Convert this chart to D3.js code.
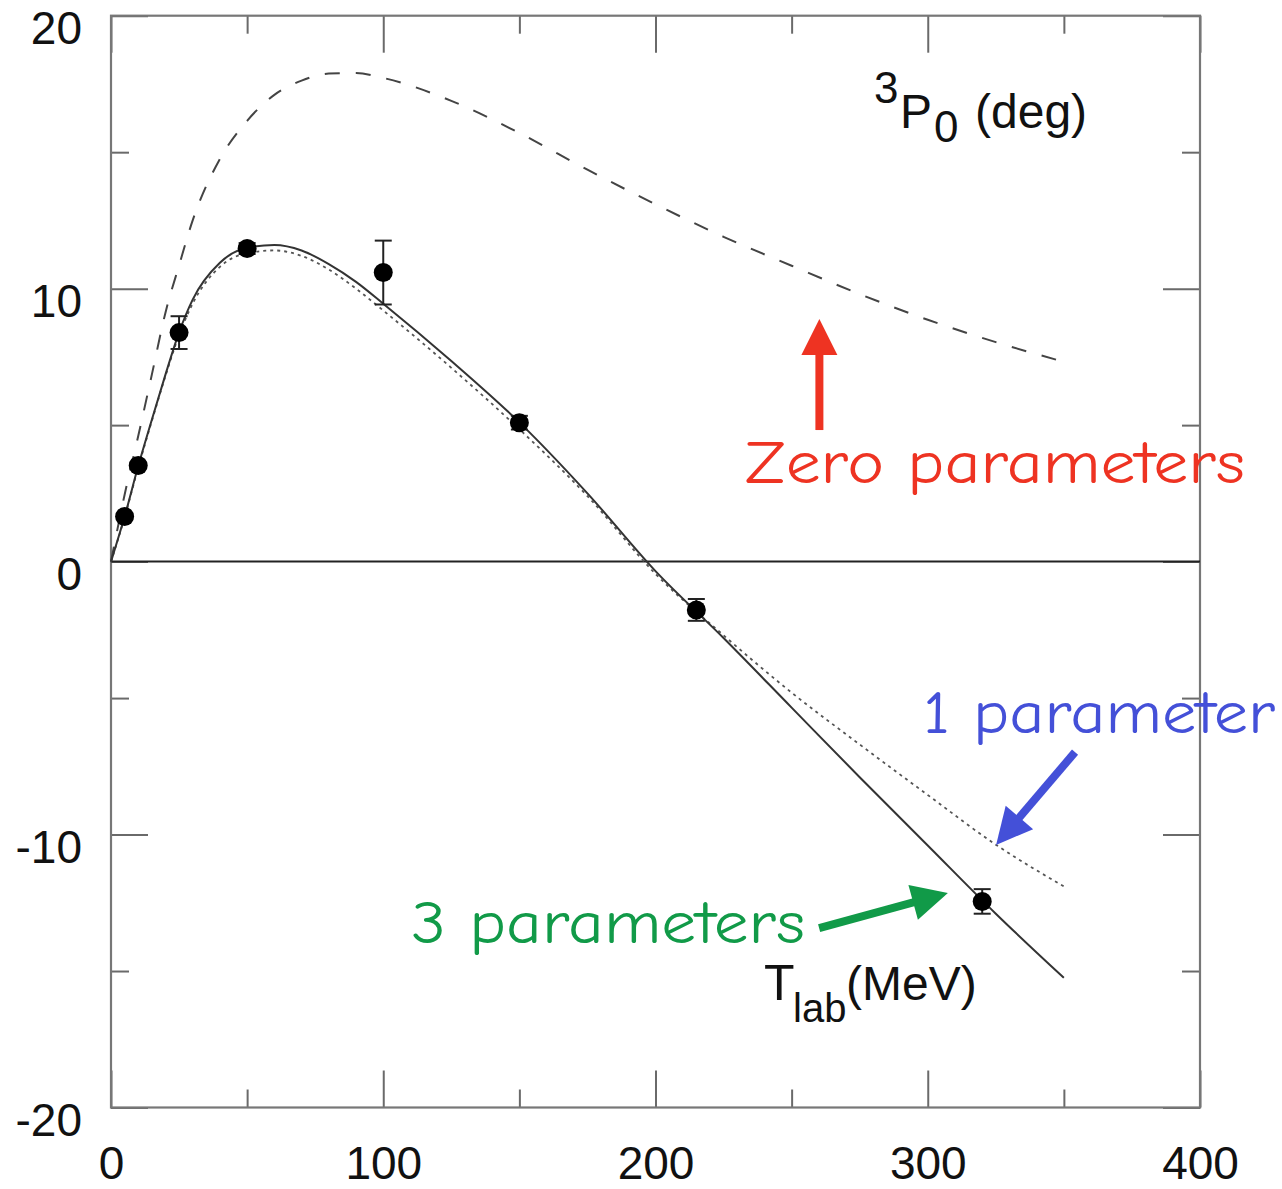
<!DOCTYPE html>
<html>
<head>
<meta charset="utf-8">
<script src="https://cdn.jsdelivr.net/npm/d3@7/dist/d3.min.js"></script>
<style>
  html, body { margin: 0; padding: 0; background: #fff; }
  svg { display: block; }
</style>
</head>
<body>
<svg id="chart" width="1282" height="1189"></svg>
<script>
// ---------- data ----------
const xMajorTicks = [0, 100, 200, 300, 400];
const xMinorTicks = [50, 150, 250, 350];
const yMajorTicks = [-20, -10, 0, 10, 20];
const yMinorTicks = [-15, -5, 5, 15];
const xTickLabels = ["0", "100", "200", "300", "400"];
const yTickLabels = ["-20", "-10", "0", "10", "20"];

// measured phase shifts (T_lab MeV, delta deg, error)
const dataT   = [5, 10, 25, 50, 100, 150, 215, 320];
const dataPh  = [1.65, 3.52, 8.39, 11.47, 10.59, 5.09, -1.77, -12.45];
const dataErr = [0.08, 0.1, 0.6, 0.2, 1.17, 0.25, 0.4, 0.45];

// curves sampled on a common T_lab grid
const curveT = [0, 5, 10, 15, 20, 25, 30, 40, 50, 60, 70, 80, 90, 100, 125, 150, 175, 200, 225, 250, 275, 300, 325, 350];
// 3 parameters (solid)
const solid3 = [0, 1.65, 3.5, 5.2, 6.85, 8.4, 9.6, 10.95, 11.5, 11.6, 11.4, 10.9, 10.25, 9.45, 7.35, 5.1, 2.5, -0.35, -2.8, -5.35, -7.9, -10.4, -12.9, -15.25];
// 1 parameter (dotted)
const dotted1 = [0, 1.62, 3.45, 5.15, 6.8, 8.3, 9.45, 10.8, 11.3, 11.4, 11.2, 10.7, 10.0, 9.2, 7.1, 4.85, 2.4, -0.45, -2.7, -4.8, -6.7, -8.55, -10.37, -11.9];
// zero parameters (dashed)
const dashed0 = [0, 2.45, 4.6, 6.85, 9.12, 10.85, 12.5, 14.75, 16.15, 17.1, 17.62, 17.88, 17.9, 17.72, 16.88, 15.7, 14.36, 13.09, 11.9, 10.84, 9.8, 8.86, 8.04, 7.32];

// annotations (data coordinates)
const annoTexts  = ["Zero parameters", "1 parameter", "3 parameters"];
const annoColors = ["#ee3322", "#4450d8", "#119a48"];
const annoTextX  = [232.9, 298.3, 110.2];
const annoTextY  = [2.88, -6.28, -13.98];
const annoTextW  = [500, 352, 394];
const arrowFromX = [260.2, 354.1, 260.1];
const arrowFromY = [4.82, -6.98, -13.43];
const arrowToX   = [260.2, 325.1, 307.4];
const arrowToY   = [8.89, -10.38, -12.14];

// ---------- layout ----------
const svg = d3.select("#chart");
const L = 111, R = 1200, T = 15.7, B = 1107.5;
const x = d3.scaleLinear().domain([0, 400]).range([L, R]);
const y = d3.scaleLinear().domain([-20, 20]).range([B, T]);

const tickColor = "#6a6a6a";
const labelFont = "'Liberation Sans', Arial, Helvetica, sans-serif";
const MAJ = 37, MIN = 18;

function styleAxis(g) {
  g.select(".domain").remove();
  g.selectAll(".tick line").attr("stroke", tickColor).attr("stroke-width", 2);
}

// bottom ticks + labels
const gB = svg.append("g").attr("transform", `translate(0,${B})`)
  .call(d3.axisBottom(x).tickValues(xMajorTicks).tickSize(-MAJ).tickPadding(0)
    .tickFormat((d, i) => xTickLabels[i]));
styleAxis(gB);
gB.selectAll("text").attr("y", 71.5).attr("dy", null)
  .attr("font-family", labelFont).attr("font-size", 46).attr("fill", "#111");
svg.append("g").attr("transform", `translate(0,${B})`)
  .call(d3.axisBottom(x).tickValues(xMinorTicks).tickSize(-MIN).tickFormat(""))
  .call(styleAxis);

// top ticks
svg.append("g").attr("transform", `translate(0,${T})`)
  .call(d3.axisTop(x).tickValues(xMajorTicks).tickSize(-MAJ).tickFormat("")).call(styleAxis);
svg.append("g").attr("transform", `translate(0,${T})`)
  .call(d3.axisTop(x).tickValues(xMinorTicks).tickSize(-MIN).tickFormat("")).call(styleAxis);

// left ticks + labels
const gL = svg.append("g").attr("transform", `translate(${L},0)`)
  .call(d3.axisLeft(y).tickValues(yMajorTicks).tickSize(-MAJ).tickPadding(29)
    .tickFormat((d, i) => yTickLabels[i]));
styleAxis(gL);
gL.selectAll("text").attr("dy", null).attr("y", 28)
  .attr("font-family", labelFont).attr("font-size", 46).attr("fill", "#111");
svg.append("g").attr("transform", `translate(${L},0)`)
  .call(d3.axisLeft(y).tickValues(yMinorTicks).tickSize(-MIN).tickFormat("")).call(styleAxis);

// right ticks
svg.append("g").attr("transform", `translate(${R},0)`)
  .call(d3.axisRight(y).tickValues(yMajorTicks).tickSize(-MAJ).tickFormat("")).call(styleAxis);
svg.append("g").attr("transform", `translate(${R},0)`)
  .call(d3.axisRight(y).tickValues(yMinorTicks).tickSize(-MIN).tickFormat("")).call(styleAxis);

// frame
svg.append("rect").attr("x", L).attr("y", T).attr("width", R - L).attr("height", B - T)
  .attr("fill", "none").attr("stroke", "#777").attr("stroke-width", 2.2);

// zero line
svg.append("line").attr("x1", x(0)).attr("x2", x(400)).attr("y1", y(0)).attr("y2", y(0))
  .attr("stroke", "#222").attr("stroke-width", 2);

// curves
const line = d3.line().x((d, i) => x(curveT[i])).y(d => y(d)).curve(d3.curveMonotoneX);
svg.append("path").attr("d", line(dashed0)).attr("fill", "none")
  .attr("stroke", "#444").attr("stroke-width", 2).attr("stroke-dasharray", "15,16");
svg.append("path").attr("d", line(dotted1)).attr("fill", "none")
  .attr("stroke", "#555").attr("stroke-width", 1.8).attr("stroke-dasharray", "3,4");
svg.append("path").attr("d", line(solid3)).attr("fill", "none")
  .attr("stroke", "#333").attr("stroke-width", 2);

// error bars
const eb = svg.append("g").attr("stroke", "#222").attr("stroke-width", 2);
dataT.forEach((t, i) => {
  const cx = x(t), y1 = y(dataPh[i] + dataErr[i]), y2 = y(dataPh[i] - dataErr[i]);
  eb.append("line").attr("x1", cx).attr("x2", cx).attr("y1", y1).attr("y2", y2);
  eb.append("line").attr("x1", cx - 8.5).attr("x2", cx + 8.5).attr("y1", y1).attr("y2", y1);
  eb.append("line").attr("x1", cx - 8.5).attr("x2", cx + 8.5).attr("y1", y2).attr("y2", y2);
});
// data points
svg.append("g").selectAll("circle").data(dataT).join("circle")
  .attr("cx", d => x(d)).attr("cy", (d, i) => y(dataPh[i])).attr("r", 9.5).attr("fill", "#000");

// title: 3P0 (deg)
const tg = svg.append("g").attr("font-family", labelFont).attr("fill", "#111");
tg.append("text").attr("x", 874).attr("y", 103).attr("font-size", 44).text("3");
tg.append("text").attr("x", 900).attr("y", 128).attr("font-size", 48).text("P");
tg.append("text").attr("x", 934).attr("y", 142).attr("font-size", 44).text("0");
tg.append("text").attr("x", 975).attr("y", 128).attr("font-size", 48).text("(deg)");

// x-axis title: T_lab(MeV)
const xt = svg.append("g").attr("font-family", labelFont).attr("fill", "#111");
xt.append("text").attr("x", 764).attr("y", 1000).attr("font-size", 50).text("T");
xt.append("text").attr("x", 793).attr("y", 1022).attr("font-size", 40).text("lab");
xt.append("text").attr("x", 846).attr("y", 1000).attr("font-size", 48).text("(MeV)");

// annotations
function arrow(g, x1, y1, x2, y2, color, shaftW, headL, headW) {
  const dx = x2 - x1, dy = y2 - y1, len = Math.hypot(dx, dy);
  const ux = dx / len, uy = dy / len, px = -uy, py = ux;
  const bx = x2 - ux * headL, by = y2 - uy * headL;
  g.append("line").attr("x1", x1).attr("y1", y1).attr("x2", bx + ux * 2).attr("y2", by + uy * 2)
    .attr("stroke", color).attr("stroke-width", shaftW);
  g.append("polygon").attr("points",
    [[x2, y2], [bx + px * headW / 2, by + py * headW / 2], [bx - px * headW / 2, by - py * headW / 2]]
      .map(p => p.join(",")).join(" ")).attr("fill", color);
}
const ag = svg.append("g");
annoTexts.forEach((s, i) => {
  ag.append("text").attr("x", x(annoTextX[i])).attr("y", y(annoTextY[i]))
    .attr("font-family", "'Comic Sans MS', 'Comic Neue', 'DejaVu Sans', sans-serif")
    .attr("font-size", 60).attr("fill", annoColors[i])
    .attr("textLength", annoTextW[i]).attr("lengthAdjust", "spacingAndGlyphs")
    .text(s);
  arrow(ag, x(arrowFromX[i]), y(arrowFromY[i]), x(arrowToX[i]), y(arrowToY[i]), annoColors[i], 8, 36, 36);
});
</script>
</body>
</html>
